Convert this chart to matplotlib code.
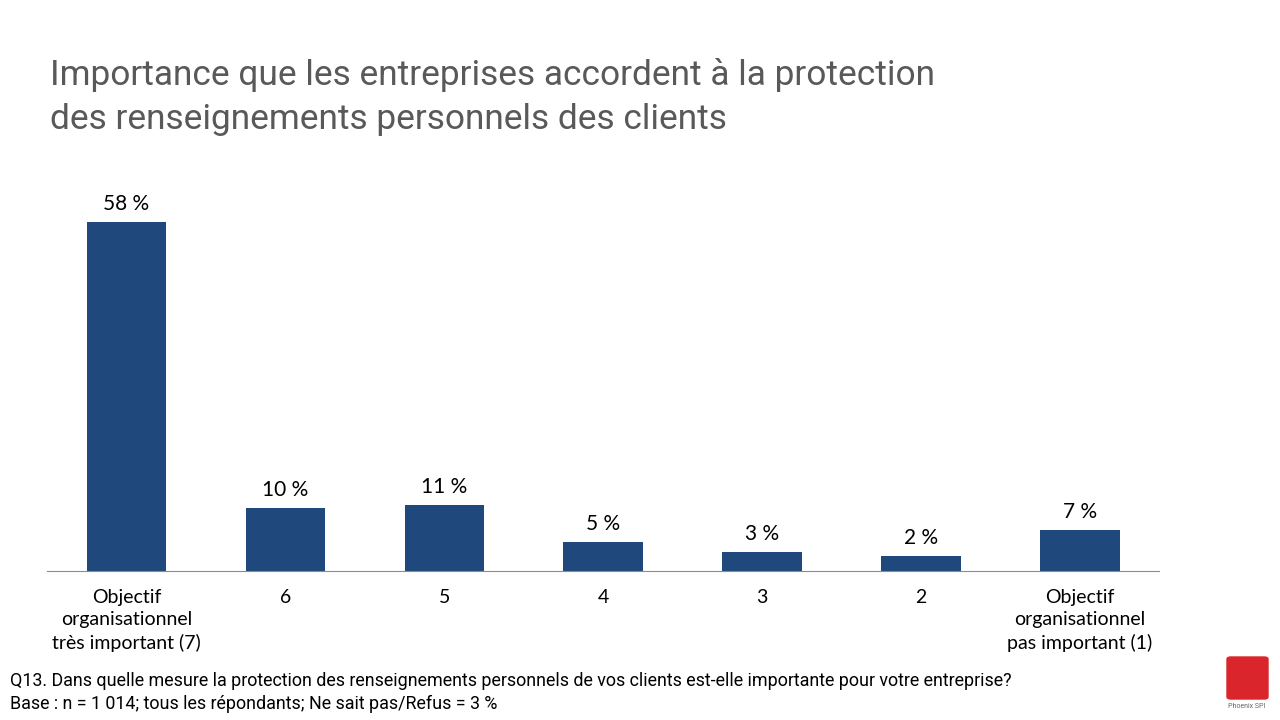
import matplotlib.pyplot as plt
from matplotlib.patches import FancyBboxPatch

categories = ['Objectif\norganisationnel\ntrès important (7)', '6', '5', '4', '3', '2',
              'Objectif\norganisationnel\npas important (1)']
values = [58, 10.5, 11, 4.8, 3.2, 2.5, 6.8]
value_labels = ['58 %', '10 %', '11 %', '5 %', '3 %', '2 %', '7 %']

title = 'Importance que les entreprises accordent à la protection\ndes renseignements personnels des clients'
note1 = 'Q13. Dans quelle mesure la protection des renseignements personnels de vos clients est-elle importante pour votre entreprise?'
note2 = 'Base : n = 1 014; tous les répondants; Ne sait pas/Refus = 3 %'

narrow = ['Roboto', 'DejaVu Sans']
body = ['Lato', 'DejaVu Sans']

fig = plt.figure(figsize=(12.8, 7.2), dpi=100)
ax = fig.add_axes([0.0367, 0.207, 0.869, 0.543])

x = range(len(values))
ax.bar(x, values, width=0.5, color='#1F497D')
for i, v in enumerate(values):
    ax.text(i, v + 1.3, value_labels[i], ha='center', va='bottom', fontsize=15, family=body)

ax.set_xlim(-0.5, len(values) - 0.5)
ax.set_ylim(0, 65)
ax.set_xticks(list(x))
ax.set_xticklabels(categories, fontsize=14, family=body, linespacing=1.38)
ax.tick_params(axis='x', length=0, pad=13)
ax.set_yticks([])
for s in ['top', 'right', 'left']:
    ax.spines[s].set_visible(False)
ax.spines['bottom'].set_color('#8C8C8C')

t = fig.text(0.039, 0.865, title, fontsize=28, color='#595959', family=narrow,
             va='center', linespacing=1.4)
n1 = fig.text(0.008, 0.054, note1, fontsize=12.5, family=narrow, va='center')
n2 = fig.text(0.008, 0.022, note2, fontsize=12.5, family=narrow, va='center')

# squeeze text down to the width it has in the slide
r = fig.canvas.get_renderer()
for txt, target in [(t, 885), (n1, 1003)]:
    w = txt.get_window_extent(r).width
    txt.set_fontsize(txt.get_fontsize() * target / w)
n2.set_fontsize(n1.get_fontsize())

# logo
logo = FancyBboxPatch((1227 / 1280, 1 - 699 / 720), 41 / 1280, 42 / 720,
                      boxstyle='round,pad=0,rounding_size=0.003',
                      transform=fig.transFigure, color='#D9252B')
fig.patches.append(logo)
fig.text(1247 / 1280, 1 - 706 / 720, 'Phoenix SPI', fontsize=5, color='#666666',
         ha='center', va='center', family=narrow)

fig.savefig('out.png')
